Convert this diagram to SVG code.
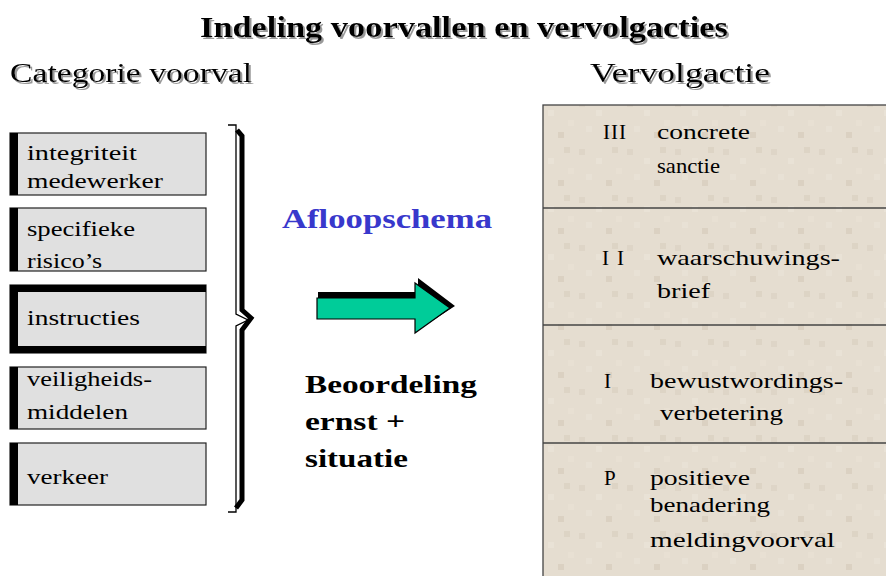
<svg xmlns="http://www.w3.org/2000/svg" width="886" height="576" viewBox="0 0 886 576" font-family="Liberation Serif, serif">
<style>
.t{fill:#000}
.box{fill:#e0e0e0;stroke:#222;stroke-width:1.2}
.bar{fill:#000}
.bt{font-size:20px}
.rt{font-size:21px}
.big{font-size:27px}
.bold{font-weight:bold}
.div{stroke:#444;stroke-width:1.3}
.shadow{filter:url(#ds)}
</style>
<defs>
<filter id="ds" x="-5%" y="-20%" width="110%" height="150%">
<feOffset in="SourceAlpha" dx="2" dy="2" result="o"/>
<feFlood flood-color="#9a9a9a"/>
<feComposite in2="o" operator="in" result="s"/>
<feMerge><feMergeNode in="s"/><feMergeNode in="SourceGraphic"/></feMerge>
</filter>
<pattern id="tex" x="0" y="0" width="48" height="48" patternUnits="userSpaceOnUse">
<rect width="48" height="48" fill="#e5ddd0"/>
<rect x="3" y="5" width="6" height="6" fill="#ded5c7"/>
<rect x="20" y="14" width="6" height="6" fill="#e9e2d6"/>
<rect x="36" y="3" width="6" height="6" fill="#ddd4c5"/>
<rect x="10" y="30" width="6" height="6" fill="#e8e1d5"/>
<rect x="30" y="36" width="6" height="6" fill="#dbd1c2"/>
<rect x="40" y="24" width="6" height="6" fill="#e8e0d3"/>
</pattern>
</defs>

<g id="title">
<text class="t bold shadow" x="464" y="37" font-size="30" text-anchor="middle" textLength="528" lengthAdjust="spacingAndGlyphs">Indeling voorvallen en vervolgacties</text>
</g>
<g id="head-left">
<text class="t big shadow" x="10" y="82" textLength="242" lengthAdjust="spacingAndGlyphs">Categorie voorval</text>
</g>
<g id="head-right">
<text class="t big shadow" x="590" y="82" textLength="180" lengthAdjust="spacingAndGlyphs">Vervolgactie</text>
</g>

<g id="cat-integriteit">
<rect class="box" x="10" y="133" width="196" height="62"/>
<rect class="bar" x="10" y="133" width="8" height="62"/>
<text class="t bt" x="27" y="160" textLength="110" lengthAdjust="spacingAndGlyphs">integriteit</text>
<text class="t bt" x="27" y="188" textLength="136" lengthAdjust="spacingAndGlyphs">medewerker</text>
</g>
<g id="cat-specifieke">
<rect class="box" x="10" y="208" width="196" height="63"/>
<rect class="bar" x="10" y="208" width="8" height="63"/>
<text class="t bt" x="27" y="236" textLength="108" lengthAdjust="spacingAndGlyphs">specifieke</text>
<text class="t bt" x="27" y="268" textLength="75" lengthAdjust="spacingAndGlyphs">risico’s</text>
</g>
<g id="cat-instructies">
<rect class="box" x="10" y="285" width="196" height="68"/>
<rect class="bar" x="10" y="285" width="196" height="7"/>
<rect class="bar" x="10" y="346" width="196" height="7"/>
<rect class="bar" x="10" y="285" width="8" height="68"/>
<text class="t bt" x="27" y="325" textLength="113" lengthAdjust="spacingAndGlyphs">instructies</text>
</g>
<g id="cat-veiligheid">
<rect class="box" x="10" y="367" width="196" height="62"/>
<rect class="bar" x="10" y="367" width="8" height="62"/>
<text class="t bt" x="27" y="386" textLength="125" lengthAdjust="spacingAndGlyphs">veiligheids-</text>
<text class="t bt" x="27" y="419" textLength="101" lengthAdjust="spacingAndGlyphs">middelen</text>
</g>
<g id="cat-verkeer">
<rect class="box" x="10" y="443" width="196" height="62"/>
<rect class="bar" x="10" y="443" width="8" height="62"/>
<text class="t bt" x="27" y="484" textLength="81" lengthAdjust="spacingAndGlyphs">verkeer</text>
</g>

<g id="connectors">
<path d="M237,130 L242,136 L242,310 L251,318 L242,330 L242,500 L236,508" fill="none" stroke="#000" stroke-width="5"/>
<path d="M228,125 H236 V314 L248,320 L236,326 V512 H228" fill="none" stroke="#000" stroke-width="1.3"/>
</g>

<g id="afloopschema">
<text class="t bold" x="282" y="228" font-size="27" style="fill:#3838cc" textLength="210" lengthAdjust="spacingAndGlyphs">Afloopschema</text>
</g>

<g id="arrow">
<polygon points="318,292 418,292 418,278 455,306 418,330 418,314 318,314" fill="#000"/>
<polygon points="317,298 415,298 415,283 450,308 415,333 415,319 317,319" fill="#00cc99" stroke="#000" stroke-width="1.2"/>
</g>

<g id="beoordeling">
<text class="t bold" x="305" y="393" font-size="26" textLength="172" lengthAdjust="spacingAndGlyphs">Beoordeling</text>
<text class="t bold" x="305" y="430" font-size="26" textLength="100" lengthAdjust="spacingAndGlyphs">ernst +</text>
<text class="t bold" x="305" y="467" font-size="26" textLength="103" lengthAdjust="spacingAndGlyphs">situatie</text>
</g>

<g id="panel">
<rect x="543" y="105" width="350" height="480" fill="url(#tex)" stroke="#444" stroke-width="1.3"/>
<line class="div" x1="543" y1="208" x2="886" y2="208"/>
<line class="div" x1="543" y1="325" x2="886" y2="325"/>
<line class="div" x1="543" y1="443" x2="886" y2="443"/>
</g>
<g id="level-III">
<text class="t rt" x="603" y="139" textLength="23" lengthAdjust="spacing">III</text>
<text class="t rt" x="657" y="139" textLength="93" lengthAdjust="spacingAndGlyphs">concrete</text>
<text class="t rt" x="657" y="173" textLength="63" lengthAdjust="spacingAndGlyphs">sanctie</text>
</g>
<g id="level-II">
<text class="t rt" x="602" y="265" textLength="22" lengthAdjust="spacing">II</text>
<text class="t rt" x="657" y="265" textLength="183" lengthAdjust="spacingAndGlyphs">waarschuwings-</text>
<text class="t rt" x="657" y="298" textLength="53" lengthAdjust="spacingAndGlyphs">brief</text>
</g>
<g id="level-I">
<text class="t rt" x="604" y="388">I</text>
<text class="t rt" x="650" y="388" textLength="193" lengthAdjust="spacingAndGlyphs">bewustwordings-</text>
<text class="t rt" x="660" y="420" textLength="123" lengthAdjust="spacingAndGlyphs">verbetering</text>
</g>
<g id="level-P">
<text class="t rt" x="604" y="485">P</text>
<text class="t rt" x="650" y="485" textLength="100" lengthAdjust="spacingAndGlyphs">positieve</text>
<text class="t rt" x="650" y="512" textLength="120" lengthAdjust="spacingAndGlyphs">benadering</text>
<text class="t rt" x="650" y="547" textLength="185" lengthAdjust="spacingAndGlyphs">meldingvoorval</text>
</g>
</svg>
